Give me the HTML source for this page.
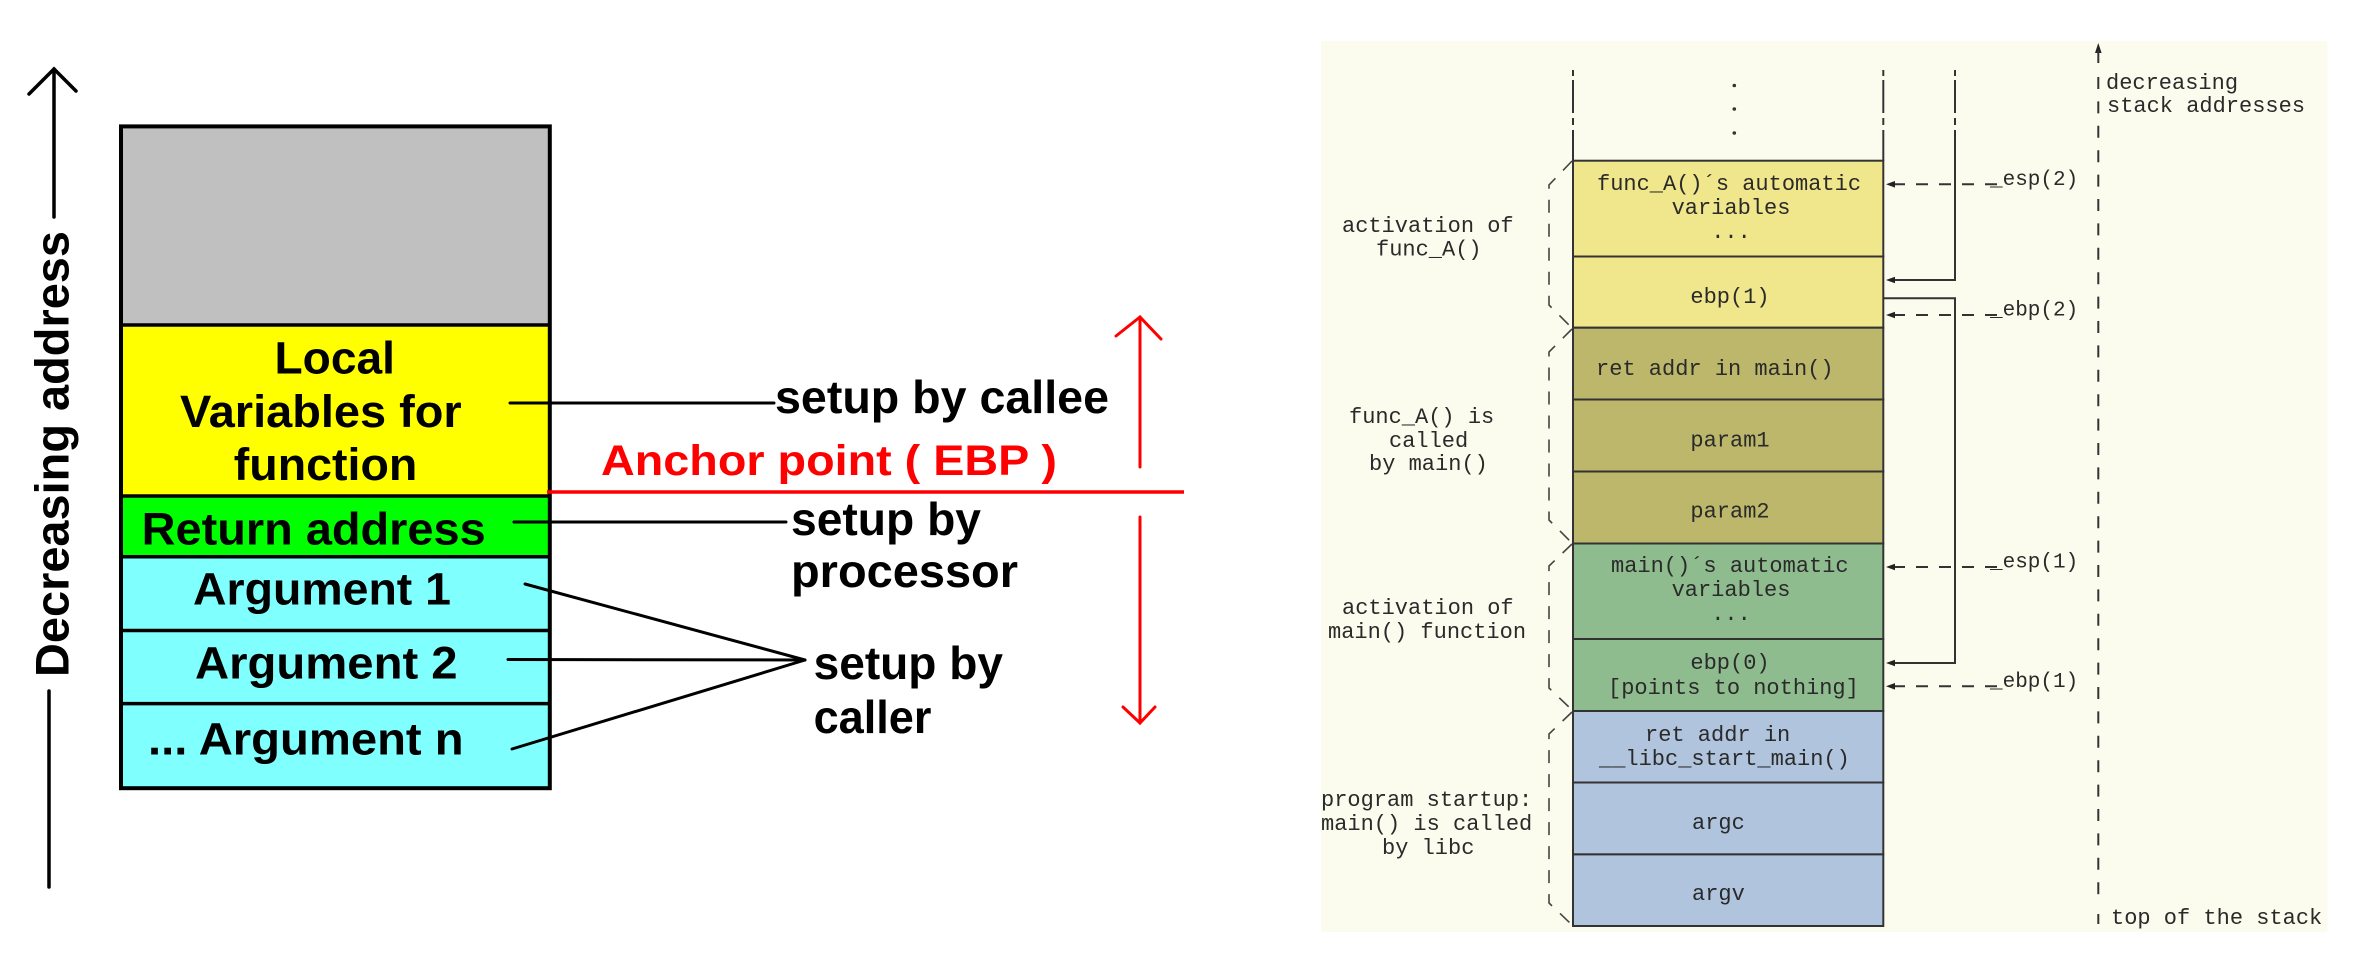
<!DOCTYPE html>
<html><head><meta charset="utf-8"><style>
html,body{margin:0;padding:0;background:#fff;}
svg{display:block;}
.b{font-family:"Liberation Sans",Arial,sans-serif;font-weight:bold;}
.m{font-family:"Liberation Mono","Courier New",monospace;fill:#2a2a2a;font-size:22px;}
</style></head><body>
<svg width="2370" height="957" viewBox="0 0 2370 957" xmlns="http://www.w3.org/2000/svg">
<rect x="0" y="0" width="2370" height="957" fill="#fff"/>
<!-- LEFT PANEL -->
<g stroke="#000" stroke-width="3.5" fill="none" stroke-linecap="round">
  <line x1="54" y1="69" x2="54" y2="217"/>
  <polyline points="29,94 54,69 76,91"/>
  <line x1="49" y1="691" x2="49" y2="887"/>
</g>
<text class="b" transform="translate(68.5,454) rotate(-90)" x="0" y="0" text-anchor="middle" font-size="47" textLength="446" lengthAdjust="spacingAndGlyphs" fill="#000">Decreasing address</text>

<rect x="121" y="126.4" width="428.8" height="198.6" fill="#c0c0c0"/>
<rect x="121" y="325" width="428.8" height="171" fill="#ffff00"/>
<rect x="121" y="496" width="428.8" height="60.7" fill="#00ff00"/>
<rect x="121" y="556.7" width="428.8" height="231.5" fill="#80ffff"/>
<g stroke="#000" stroke-width="3.5">
  <line x1="121" y1="325" x2="550" y2="325"/>
  <line x1="121" y1="496" x2="550" y2="496"/>
  <line x1="121" y1="556.7" x2="550" y2="556.7"/>
  <line x1="121" y1="630.5" x2="550" y2="630.5"/>
  <line x1="121" y1="703.6" x2="550" y2="703.6"/>
</g>
<rect x="121" y="126.4" width="428.8" height="661.8" fill="none" stroke="#000" stroke-width="4"/>

<g class="b" font-size="45" fill="#000">
  <text x="274.5" y="373.7" textLength="120.5" lengthAdjust="spacingAndGlyphs">Local</text>
  <text x="180" y="427" textLength="281.7" lengthAdjust="spacingAndGlyphs">Variables for</text>
  <text x="233.8" y="480" textLength="183.5" lengthAdjust="spacingAndGlyphs">function</text>
  <text x="141.7" y="544.5" textLength="344" lengthAdjust="spacingAndGlyphs">Return address</text>
  <text x="193" y="604.5" textLength="258" lengthAdjust="spacingAndGlyphs">Argument 1</text>
  <text x="195" y="678.5" textLength="262.6" lengthAdjust="spacingAndGlyphs">Argument 2</text>
  <text x="148" y="754.4" textLength="315.6" lengthAdjust="spacingAndGlyphs">... Argument n</text>
</g>

<g stroke="#000" stroke-width="3" stroke-linecap="round">
  <line x1="510" y1="403" x2="774" y2="403"/>
  <line x1="514" y1="522" x2="786" y2="522"/>
  <line x1="525" y1="584" x2="805" y2="660"/>
  <line x1="508" y1="659.5" x2="805" y2="660"/>
  <line x1="512" y1="749" x2="805" y2="660"/>
</g>
<g class="b" font-size="46" fill="#000">
  <text x="775" y="413" textLength="334" lengthAdjust="spacingAndGlyphs">setup by callee</text>
  <text x="791" y="535" textLength="190" lengthAdjust="spacingAndGlyphs">setup by</text>
  <text x="791" y="587" textLength="227" lengthAdjust="spacingAndGlyphs">processor</text>
  <text x="813.6" y="679" textLength="189.4" lengthAdjust="spacingAndGlyphs">setup by</text>
  <text x="813.6" y="733" textLength="117.8" lengthAdjust="spacingAndGlyphs">caller</text>
</g>
<text class="b" x="601" y="475" font-size="43" fill="#ff0000" textLength="456" lengthAdjust="spacingAndGlyphs">Anchor point ( EBP )</text>
<line x1="547" y1="492" x2="1184" y2="492" stroke="#ff0000" stroke-width="3.5"/>
<g stroke="#ff0000" stroke-width="3" fill="none" stroke-linecap="round">
  <line x1="1140" y1="317" x2="1140" y2="467"/>
  <polyline points="1116,336 1140,317 1161,339"/>
  <line x1="1140" y1="517" x2="1140" y2="723"/>
  <polyline points="1123,707 1140,723 1155,707"/>
</g>

<!-- RIGHT PANEL -->
<rect x="1321" y="41" width="1006.5" height="891" fill="#fcfcee"/>

<!-- stack rows -->
<g stroke="#333" stroke-width="2">
  <rect x="1573" y="160.7" width="310.3" height="95.8" fill="#f0e68c"/>
  <rect x="1573" y="256.5" width="310.3" height="71.2" fill="#f0e68c"/>
  <rect x="1573" y="327.7" width="310.3" height="71.8" fill="#bdb76b"/>
  <rect x="1573" y="399.5" width="310.3" height="72" fill="#bdb76b"/>
  <rect x="1573" y="471.5" width="310.3" height="72" fill="#bdb76b"/>
  <rect x="1573" y="543.5" width="310.3" height="95.5" fill="#8fbc8f"/>
  <rect x="1573" y="639" width="310.3" height="72" fill="#8fbc8f"/>
  <rect x="1573" y="711" width="310.3" height="71.5" fill="#b0c4de"/>
  <rect x="1573" y="782.5" width="310.3" height="71.9" fill="#b0c4de"/>
  <rect x="1573" y="854.4" width="310.3" height="71.6" fill="#b0c4de"/>
</g>

<!-- dash-dot continuation lines -->
<g stroke="#333" stroke-width="2">
  <line x1="1573" y1="70" x2="1573" y2="76"/><line x1="1573" y1="80" x2="1573" y2="113"/><line x1="1573" y1="118" x2="1573" y2="125"/><line x1="1573" y1="130" x2="1573" y2="161"/>
  <line x1="1883.3" y1="70" x2="1883.3" y2="76"/><line x1="1883.3" y1="80" x2="1883.3" y2="113"/><line x1="1883.3" y1="118" x2="1883.3" y2="125"/><line x1="1883.3" y1="130" x2="1883.3" y2="161"/>
  <line x1="1955" y1="70" x2="1955" y2="76"/><line x1="1955" y1="80" x2="1955" y2="113"/><line x1="1955" y1="118" x2="1955" y2="125"/>
</g>
<g fill="#333">
  <circle cx="1734.3" cy="85.5" r="1.8"/>
  <circle cx="1734.3" cy="109" r="1.8"/>
  <circle cx="1734.3" cy="133" r="1.8"/>
</g>

<!-- solid pointer lines -->
<g stroke="#333" stroke-width="2" fill="none">
  <polyline points="1955,130 1955,280 1893,280"/>
  <polyline points="1883.3,298.3 1955,298.3 1955,663 1893,663"/>
</g>
<!-- dashed pointer lines -->
<g stroke="#333" stroke-width="2" stroke-dasharray="12 11">
  <line x1="1893" y1="184.3" x2="2001" y2="184.3"/>
  <line x1="1893" y1="315" x2="2001" y2="315"/>
  <line x1="1893" y1="567" x2="2001" y2="567"/>
  <line x1="1893" y1="686.3" x2="2001" y2="686.3"/>
</g>
<g fill="#222">
  <polygon points="1886,184.3 1895,181 1895,187.6"/>
  <polygon points="1886,280 1895,276.7 1895,283.3"/>
  <polygon points="1886,315 1895,311.7 1895,318.3"/>
  <polygon points="1886,567 1895,563.7 1895,570.3"/>
  <polygon points="1886,663 1895,659.7 1895,666.3"/>
  <polygon points="1886,686.3 1895,683 1895,689.6"/>
  <polygon points="2098.3,43 2095,53 2101.6,53"/>
</g>
<g class="m" style="font-size:21px">
  <text x="1990" y="185">_esp(2)</text>
  <text x="1990" y="315.5">_ebp(2)</text>
  <text x="1990" y="567.5">_esp(1)</text>
  <text x="1990" y="687">_ebp(1)</text>
</g>

<!-- axis -->
<line x1="2098.3" y1="50" x2="2098.3" y2="63" stroke="#333" stroke-width="2"/>
<line x1="2098.3" y1="77" x2="2098.3" y2="902" stroke="#333" stroke-width="2" stroke-dasharray="12 12.4"/>
<line x1="2098.3" y1="914" x2="2098.3" y2="924" stroke="#333" stroke-width="2"/>

<!-- brackets -->
<g stroke="#444" stroke-width="1.6" fill="none" stroke-dasharray="13 11">
  <polyline points="1572,161 1549,185 1549,305 1571,327"/>
  <polyline points="1572,329 1549,352 1549,520 1571,542"/>
  <polyline points="1572,544 1549,566 1549,688 1571,709"/>
  <polyline points="1572,712 1549,734 1549,903 1571,924"/>
</g>

<!-- stack text -->
<g class="m">
  <text x="1597" y="190">func_A()´s automatic</text>
  <text x="1731" y="214" text-anchor="middle">variables</text>
  <text x="1731" y="238" text-anchor="middle">...</text>
  <text x="1730" y="303" text-anchor="middle">ebp(1)</text>
  <text x="1596" y="375">ret addr in main()</text>
  <text x="1730" y="446.7" text-anchor="middle">param1</text>
  <text x="1730" y="517.7" text-anchor="middle">param2</text>
  <text x="1611" y="572">main()´s automatic</text>
  <text x="1731" y="596" text-anchor="middle">variables</text>
  <text x="1731" y="620" text-anchor="middle">...</text>
  <text x="1730" y="669" text-anchor="middle">ebp(0)</text>
  <text x="1608" y="694">[points to nothing]</text>
  <text x="1645" y="741">ret addr in</text>
  <text x="1599" y="765">__libc_start_main()</text>
  <text x="1692" y="829">argc</text>
  <text x="1692" y="900">argv</text>

  <text x="1342" y="232">activation of</text>
  <text x="1376" y="255.5">func_A()</text>
  <text x="1349" y="423">func_A() is</text>
  <text x="1389" y="447">called</text>
  <text x="1369" y="470">by main()</text>
  <text x="1342" y="614">activation of</text>
  <text x="1328" y="638">main() function</text>
  <text x="1321" y="806">program startup:</text>
  <text x="1321" y="830">main() is called</text>
  <text x="1382" y="854">by libc</text>

  <text x="2106" y="89">decreasing</text>
  <text x="2107" y="112">stack addresses</text>
  <text x="2111" y="924">top of the stack</text>
</g>
</svg>
</body></html>
